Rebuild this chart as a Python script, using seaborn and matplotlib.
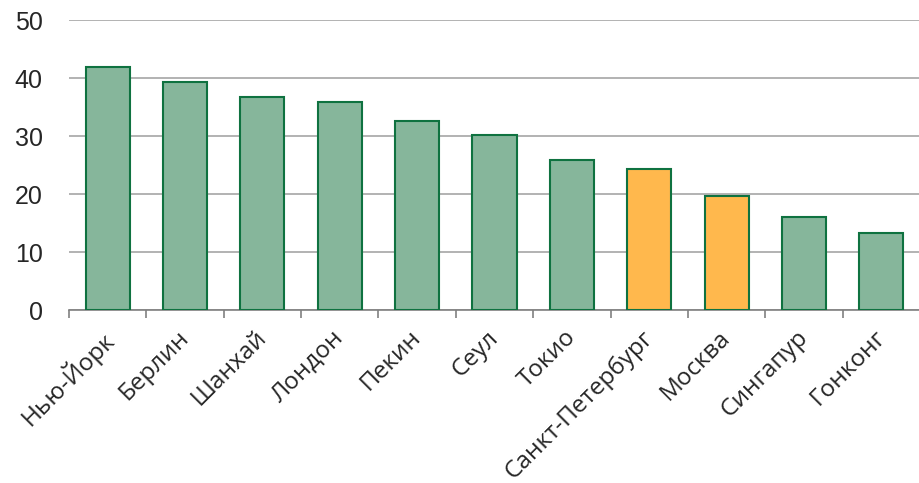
import matplotlib
matplotlib.use("Agg")
import matplotlib.pyplot as plt
import matplotlib.transforms as mtransforms
import seaborn as sns
import pandas as pd
import numpy as np

cities = ["Нью-Йорк", "Берлин", "Шанхай", "Лондон", "Пекин", "Сеул", "Токио",
          "Санкт-Петербург", "Москва", "Сингапур", "Гонконг"]
values = [41.9, 39.4, 36.8, 35.9, 32.6, 30.2, 25.9, 24.3, 19.6, 16.0, 13.3]
groups = ["world", "world", "world", "world", "world", "world", "world",
          "russia", "russia", "world", "world"]
y_ticks = [0, 10, 20, 30, 40, 50]

df = pd.DataFrame({"city": cities, "value": values, "group": groups})
palette = {"world": "#86b69b", "russia": "#ffb84d"}

sns.set_style("white")
fig = plt.figure(figsize=(9.2, 4.83), dpi=100)
ax = fig.add_axes([0.075, 0.358, 0.925, 0.6])

sns.barplot(data=df, x="city", y="value", hue="group", palette=palette,
            dodge=False, width=0.57, edgecolor="#0f7240", linewidth=1.5,
            saturation=1, legend=False, ax=ax, zorder=3)

ax.set_ylim(0, 50)
ax.set_xlim(-0.5, len(cities) - 0.5)
ax.set_yticks(y_ticks)
ax.set_yticklabels([str(t) for t in y_ticks], fontsize=18, family="Liberation Sans")
ax.tick_params(axis="y", left=False, length=0, pad=19)
ax.yaxis.grid(True, color="#a6a6a6", linewidth=1.2, zorder=0)
ax.set_axisbelow(True)

# category boundary ticks on the x axis
ax.set_xticks(np.arange(len(cities) + 1) - 0.5, minor=True)
ax.tick_params(axis="x", which="minor", bottom=True, length=6, width=1.2,
               color="#808080", direction="out")
ax.set_xticks(np.arange(len(cities)))
ax.tick_params(axis="x", which="major", bottom=False, length=0, pad=13)
ax.set_xticklabels(cities, rotation=45, ha="right", rotation_mode="anchor",
                   fontsize=17.5, family="Open Sans")
shift = mtransforms.ScaledTranslation(-0.08, 0.024, fig.dpi_scale_trans)
for lbl in ax.get_xticklabels():
    lbl.set_transform(lbl.get_transform() + shift)

ax.set_xlabel("")
ax.set_ylabel("")
for s in ["left", "right", "top"]:
    ax.spines[s].set_visible(False)
ax.spines["bottom"].set_color("#808080")
ax.spines["bottom"].set_linewidth(1.2)

fig.savefig("out.png", dpi=100)
